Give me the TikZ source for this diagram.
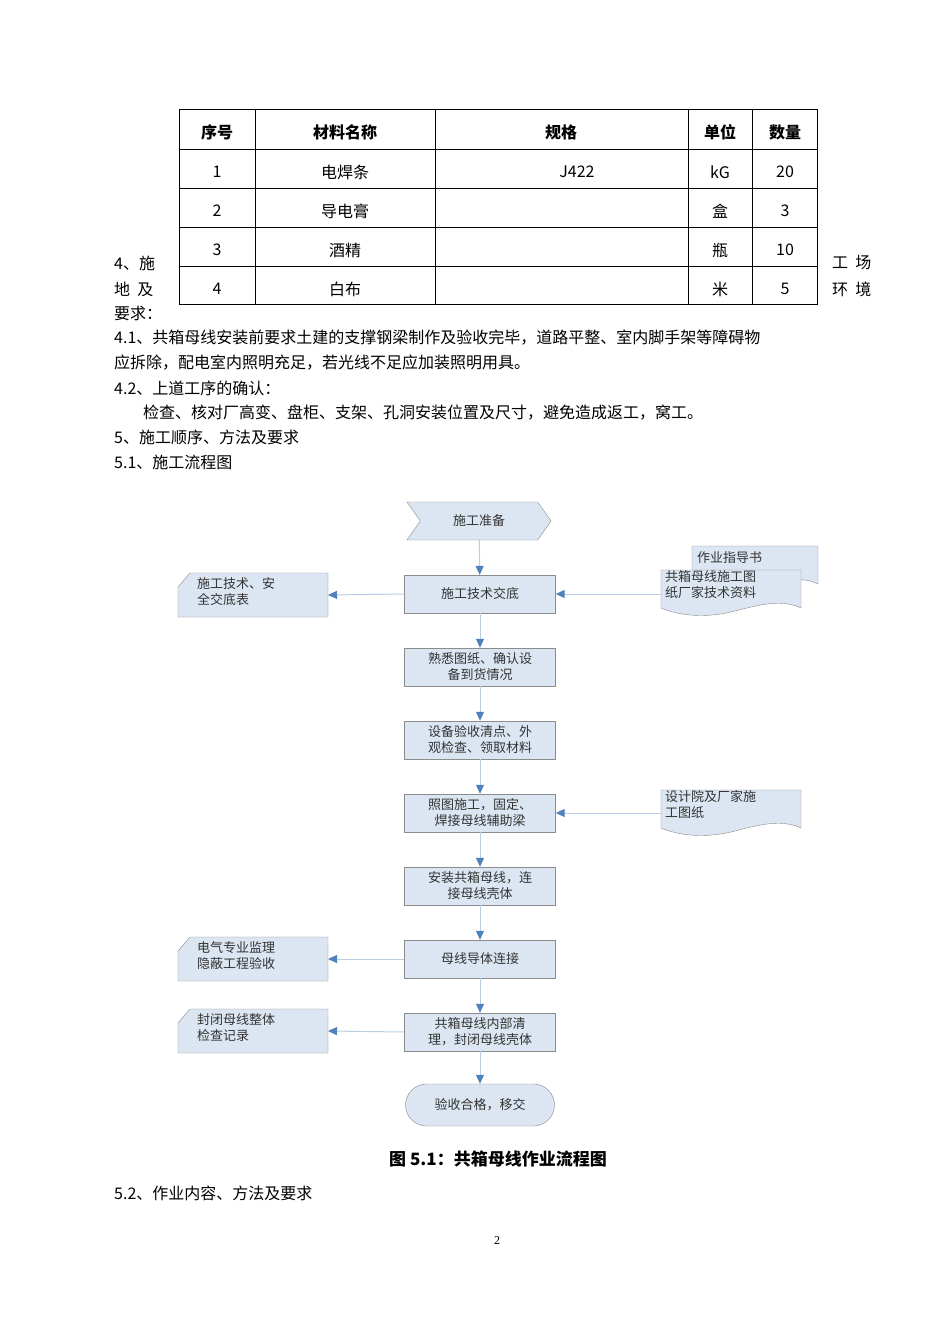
\documentclass[tikz,border=0pt]{standalone}
\usepackage{fontspec}
\setmainfont{Liberation Serif}
\newfontfamily\cjk{Noto Sans CJK SC}
\usetikzlibrary{arrows.meta,shapes.geometric,shapes.misc,shapes.symbols}
\definecolor{bfill}{HTML}{DCE6F2}
\definecolor{bline}{HTML}{8C8C8C}
\definecolor{aline}{HTML}{B9CDE5}
\definecolor{atip}{HTML}{4F81BD}
\begin{document}
\begin{tikzpicture}[x=1pt,y=-1pt,
  txt/.style={anchor=west,inner sep=0,font=\fontsize{16}{20}\selectfont\cjk},
  cell/.style={inner sep=0,font=\fontsize{16}{20}\selectfont\cjk},
  hcell/.style={inner sep=0,font=\fontsize{16}{20}\selectfont\cjk\bfseries},
  fc/.style={draw=bline,fill=bfill,minimum width=151pt,minimum height=38pt,inner sep=1pt,align=center,font=\fontsize{13}{16}\selectfont\cjk,text=black!80},
  ft/.style={inner sep=0,align=left,anchor=north west,font=\fontsize{13}{16}\selectfont\cjk,text=black!80},
  arr/.style={draw=aline,line width=1pt,-{Triangle[length=9pt,width=8pt,color=atip]}}]
\useasboundingbox (0,0) rectangle (950,1344);
\fill[white] (0,0) rectangle (950,1344);
% table
\draw[line width=0.8pt] (179,109) rectangle (817,304);
\foreach \y in {149,188,227,266} \draw[line width=0.6pt] (179,\y)--(817,\y);
\foreach \x in {255,435,688,752} \draw[line width=0.6pt] (\x,109)--(\x,304);
\node[hcell] (h1) at (217,132) {序号};
\node[hcell] (h2) at (345,132) {材料名称};
\node[hcell] (h3) at (561,132) {规格};
\node[hcell] (h4) at (720,132) {单位};
\node[hcell] (h5) at (785,132) {数量};
\node[cell] (a1) at (217,172) {1}; \node[cell] (b1) at (345,172) {电焊条}; \node[cell] (c1) at (577,172) {J422}; \node[cell] (d1) at (720,172) {kG}; \node[cell] (e1) at (785,172) {20};
\node[cell] (a2) at (217,211) {2}; \node[cell] (b2) at (345,211) {导电膏}; \node[cell] (d2) at (720,211) {盒}; \node[cell] (e2) at (785,211) {3};
\node[cell] (a3) at (217,250) {3}; \node[cell] (b3) at (345,250) {酒精}; \node[cell] (d3) at (720,250) {瓶}; \node[cell] (e3) at (785,250) {10};
\node[cell] (a4) at (217,289) {4}; \node[cell] (b4) at (345,289) {白布}; \node[cell] (d4) at (720,289) {米}; \node[cell] (e4) at (785,289) {5};
% text
\node[txt] (t1) at (114,263) {4、施};
\node[txt] (t2) at (114,289) {地\ \ 及};
\node[txt] (t3) at (832,263) {工\ \ 场};
\node[txt] (t4) at (832,289) {环\ \ 境};
\node[txt] (t5) at (114,313) {要求：};
\node[txt] (t6) at (114,338) {4.1、共箱母线安装前要求土建的支撑钢梁制作及验收完毕，道路平整、室内脚手架等障碍物};
\node[txt] (t7) at (114,363) {应拆除，配电室内照明充足，若光线不足应加装照明用具。};
\node[txt] (t8) at (114,388) {4.2、上道工序的确认：};
\node[txt] (t9) at (143,413) {检查、核对厂高变、盘柜、支架、孔洞安装位置及尺寸，避免造成返工，窝工。};
\node[txt] (t10) at (114,437) {5、施工顺序、方法及要求};
\node[txt] (t11) at (114,462) {5.1、施工流程图};
% flowchart
\node[fc,draw=bline,shape=signal,signal to=east,signal from=west,signal pointer angle=110,minimum width=144pt,minimum height=38pt] (s0) at (479,521) {施工准备};
\node[fc] (s1) at (480,594) {施工技术交底};
\node[fc] (s2) at (480,667) {熟悉图纸、确认设\\备到货情况};
\node[fc] (s3) at (480,740) {设备验收清点、外\\观检查、领取材料};
\node[fc] (s4) at (480,813) {照图施工，固定、\\焊接母线辅助梁};
\node[fc] (s5) at (480,886) {安装共箱母线，连\\接母线壳体};
\node[fc] (s6) at (480,959) {母线导体连接};
\node[fc] (s7) at (480,1032) {共箱母线内部清\\理，封闭母线壳体};
\node[fc,rounded rectangle,minimum height=42pt] (s8) at (480,1105) {验收合格，移交};
% left cards
\foreach \n/\y in {c1/573,c2/937,c3/1009}{
  \fill[bfill,draw=bline] (190,\y)--(328,\y)--(328,\y+44)--(178,\y+44)--(178,\y+14)--cycle;
  \coordinate (\n) at (328,\y+22);}
\node[ft] (l1) at (197,577) {施工技术、安\\全交底表};
\node[ft] (l2) at (197,941) {电气专业监理\\隐蔽工程验收};
\node[ft] (l3) at (197,1013) {封闭母线整体\\检查记录};
% right documents
\fill[bfill,draw=bline] (692,546)--(818,546)--(818,584) .. controls (805,578) and (800,580) .. (792,581) --(692,581)--cycle;
\node[ft] (r0) at (697,551) {作业指导书};
\fill[bfill,draw=bline] (661,570)--(801,570)--(801,608) .. controls (780,598) and (755,606) .. (731,612) .. controls (705,618) and (680,616) .. (661,608)--cycle;
\node[ft] (r1) at (665,570) {共箱母线施工图\\纸厂家技术资料};
\coordinate (d1) at (661,594);
\fill[bfill,draw=bline] (661,790)--(801,790)--(801,828) .. controls (780,818) and (755,826) .. (731,832) .. controls (705,838) and (680,836) .. (661,828)--cycle;
\node[ft] (r2) at (665,790) {设计院及厂家施\\工图纸};
\coordinate (d2) at (661,813);
% arrows
\draw[arr] (s0)--(s1); \draw[arr] (s1)--(s2); \draw[arr] (s2)--(s3); \draw[arr] (s3)--(s4);
\draw[arr] (s4)--(s5); \draw[arr] (s5)--(s6); \draw[arr] (s6)--(s7); \draw[arr] (s7)--(s8);
\draw[arr] (s1.west)--(c1); \draw[arr] (s6.west)--(c2); \draw[arr] (s7.west)--(c3);
\draw[arr] (d1)--(s1.east); \draw[arr] (d2)--(s4.east);
% caption
\node[inner sep=0,font=\fontsize{17}{20}\selectfont\cjk\bfseries] (cap) at (498,1159) {图 5.1：共箱母线作业流程图};
\node[txt] (t12) at (114,1193) {5.2、作业内容、方法及要求};
\node[inner sep=0,font=\fontsize{12}{14}\selectfont] (pg) at (497,1241) {2};
\end{tikzpicture}
\end{document}
